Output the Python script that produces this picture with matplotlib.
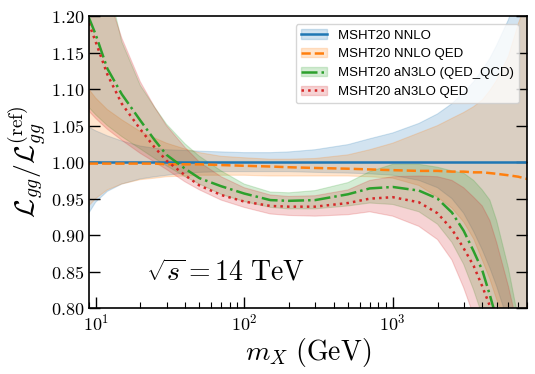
import matplotlib
matplotlib.use('Agg')
import matplotlib.pyplot as plt
from matplotlib.patches import Patch
from matplotlib.lines import Line2D

plt.rcParams['font.family'] = 'serif'
plt.rcParams['font.serif'] = ['cmr10']
plt.rcParams['mathtext.fontset'] = 'cm'
plt.rcParams['axes.formatter.use_mathtext'] = True

# invariant mass grid (GeV)
mx = [9, 10, 12, 15, 20, 25, 30, 40, 50, 70, 100, 150, 200, 300, 500, 700,
      1000, 1500, 2000, 2500, 3000, 3500, 4000, 4500, 5000, 6000, 7000, 8000]

# MSHT20 NNLO (reference)
nnlo_c = [1.0] * len(mx)
nnlo_hi = [1.048, 1.043, 1.036, 1.029, 1.022, 1.019, 1.017, 1.016, 1.015, 1.014, 1.013, 1.013, 1.014, 1.017,
           1.024, 1.032, 1.040, 1.053, 1.066, 1.080, 1.095, 1.110, 1.126, 1.142, 1.160, 1.195, 1.235, 1.280]
nnlo_lo = [0.930, 0.945, 0.960, 0.970, 0.977, 0.980, 0.982, 0.985, 0.986, 0.987, 0.987, 0.987, 0.987, 0.986,
           0.985, 0.984, 0.982, 0.975, 0.965, 0.950, 0.930, 0.905, 0.880, 0.855, 0.830, 0.780, 0.740, 0.700]

# MSHT20 NNLO QED
qed_c = [0.998, 0.998, 0.998, 0.998, 0.998, 0.998, 0.997, 0.997, 0.997, 0.996, 0.995, 0.994, 0.993, 0.992,
         0.991, 0.990, 0.989, 0.988, 0.988, 0.987, 0.987, 0.986, 0.986, 0.985, 0.984, 0.982, 0.980, 0.977]
qed_hi = [1.100, 1.088, 1.072, 1.058, 1.042, 1.033, 1.026, 1.018, 1.013, 1.008, 1.006, 1.004, 1.004, 1.005,
          1.010, 1.017, 1.026, 1.040, 1.050, 1.060, 1.068, 1.076, 1.085, 1.098, 1.112, 1.145, 1.190, 1.220]
qed_lo = [0.940, 0.950, 0.962, 0.970, 0.976, 0.978, 0.980, 0.981, 0.982, 0.982, 0.982, 0.981, 0.981, 0.981,
          0.981, 0.980, 0.978, 0.968, 0.952, 0.937, 0.918, 0.895, 0.866, 0.840, 0.812, 0.770, 0.730, 0.700]

# MSHT20 aN3LO (QED_QCD)
n3qcd_c = [1.198, 1.175, 1.128, 1.093, 1.057, 1.030, 1.010, 0.991, 0.978, 0.967, 0.957, 0.948, 0.947, 0.948,
           0.956, 0.964, 0.966, 0.961, 0.950, 0.931, 0.906, 0.878, 0.852, 0.818, 0.785, 0.720, 0.660, 0.600]
n3qcd_hi = [1.330, 1.300, 1.250, 1.165, 1.105, 1.075, 1.052, 1.025, 1.008, 0.988, 0.970, 0.959, 0.958, 0.961,
            0.972, 0.987, 0.997, 0.997, 0.993, 0.988, 0.985, 0.975, 0.962, 0.948, 0.920, 0.855, 0.785, 0.730]
n3qcd_lo = [1.075, 1.065, 1.050, 1.035, 1.018, 1.005, 0.995, 0.980, 0.970, 0.956, 0.946, 0.938, 0.936, 0.936,
            0.940, 0.944, 0.942, 0.932, 0.915, 0.890, 0.860, 0.825, 0.790, 0.750, 0.710, 0.640, 0.580, 0.530]

# MSHT20 aN3LO QED
n3qed_c = [1.190, 1.165, 1.120, 1.080, 1.045, 1.020, 1.002, 0.982, 0.968, 0.955, 0.946, 0.940, 0.939, 0.939,
           0.944, 0.950, 0.952, 0.945, 0.930, 0.908, 0.882, 0.858, 0.830, 0.803, 0.770, 0.700, 0.640, 0.580]
n3qed_hi = [1.310, 1.280, 1.230, 1.170, 1.110, 1.075, 1.050, 1.020, 1.000, 0.980, 0.965, 0.955, 0.953, 0.954,
            0.962, 0.975, 0.980, 0.981, 0.980, 0.975, 0.965, 0.952, 0.940, 0.920, 0.890, 0.830, 0.770, 0.720]
n3qed_lo = [1.070, 1.060, 1.045, 1.030, 1.012, 1.000, 0.990, 0.973, 0.962, 0.948, 0.938, 0.929, 0.927, 0.926,
            0.928, 0.932, 0.926, 0.912, 0.894, 0.866, 0.828, 0.790, 0.750, 0.710, 0.670, 0.600, 0.550, 0.500]

labels = ['MSHT20 NNLO', 'MSHT20 NNLO QED', 'MSHT20 aN3LO (QED_QCD)', 'MSHT20 aN3LO QED']
colours = ['#1f77b4', '#ff7f0e', '#2ca02c', '#d62728']
styles = ['-', '--', '-.', ':']

series = [(nnlo_c, nnlo_lo, nnlo_hi), (qed_c, qed_lo, qed_hi),
          (n3qcd_c, n3qcd_lo, n3qcd_hi), (n3qed_c, n3qed_lo, n3qed_hi)]

fig = plt.figure(figsize=(5.35, 3.74), dpi=100)
ax = fig.add_axes([0.166, 0.176, 0.819, 0.781])

handles = []
for (c, lo, hi), col, ls in zip(series, colours, styles):
    ax.fill_between(mx, lo, hi, color=col, alpha=0.2, lw=0.8)
    ax.plot(mx, c, color=col, ls=ls, lw=1.8)
    handles.append((Patch(facecolor=col, alpha=0.2, edgecolor=col),
                    Line2D([], [], color=col, ls=ls, lw=1.8)))

ax.set_xscale('log')
ax.set_xlim(9, 8000)
ax.set_ylim(0.8, 1.2)
ax.set_yticks([0.80, 0.85, 0.90, 0.95, 1.00, 1.05, 1.10, 1.15, 1.20])

ax.tick_params(which='both', direction='in', right=True, top=False, labelsize=13)
ax.tick_params(which='major', length=8, width=1)
ax.tick_params(which='minor', length=4.5, width=0.8)
for s in ax.spines.values():
    s.set_linewidth(1.2)

ax.set_xlabel(r'$m_X\ (\mathrm{GeV})$', fontsize=20, labelpad=2)
ax.set_ylabel(r'$\mathcal{L}_{gg}/\mathcal{L}_{gg}^{(\mathrm{ref})}$', fontsize=20, labelpad=2)

ax.text(0.13, 0.095, r'$\sqrt{s} = 14\ \mathrm{TeV}$', transform=ax.transAxes, fontsize=20)

ax.legend(handles, labels, loc='upper right', prop={'family': 'Liberation Sans', 'size': 9.5},
          borderaxespad=0.6)

plt.savefig('out.png', dpi=100)
